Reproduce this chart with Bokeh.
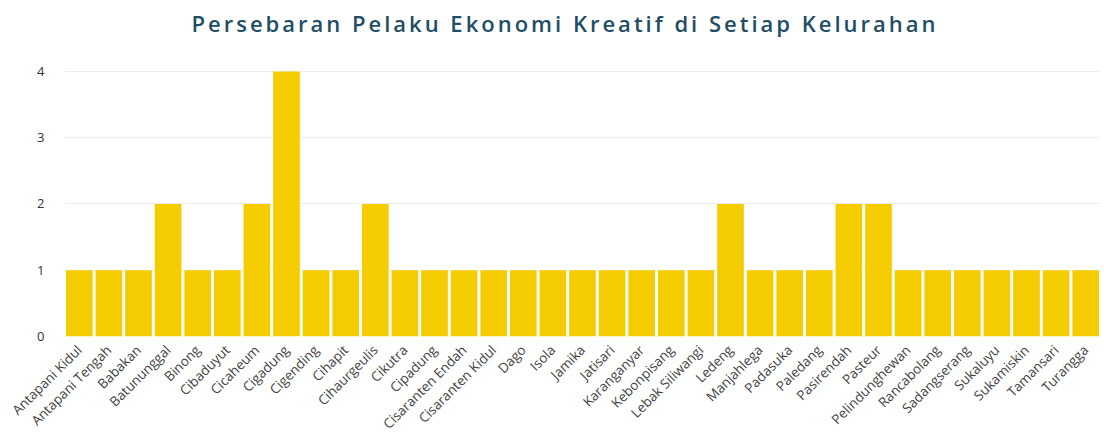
import math
from bokeh.plotting import figure
from bokeh.models import ColumnDataSource, Range1d, FixedTicker, Div
from bokeh.layouts import column
from bokeh.embed import file_html
from bokeh.resources import INLINE

# Jumlah pelaku ekonomi kreatif per kelurahan
kelurahan = [
    "Antapani Kidul", "Antapani Tengah", "Babakan", "Batununggal", "Binong",
    "Cibaduyut", "Cicaheum", "Cigadung", "Cigending", "Cihapit",
    "Cihaurgeulis", "Cikutra", "Cipadung", "Cisaranten Endah", "Cisaranten Kidul",
    "Dago", "Isola", "Jamika", "Jatisari", "Karanganyar",
    "Kebonpisang", "Lebak Siliwangi", "Ledeng", "Manjahlega", "Padasuka",
    "Paledang", "Pasirendah", "Pasteur", "Pelindunghewan", "Rancabolang",
    "Sadangserang", "Sukaluyu", "Sukamiskin", "Tamansari", "Turangga",
]
jumlah = [
    1, 1, 1, 2, 1,
    1, 2, 4, 1, 1,
    2, 1, 1, 1, 1,
    1, 1, 1, 1, 1,
    1, 1, 2, 1, 1,
    1, 2, 2, 1, 1,
    1, 1, 1, 1, 1,
]
y_ticks = [0, 1, 2, 3, 4]
judul = "Persebaran Pelaku Ekonomi Kreatif di Setiap Kelurahan"

source = ColumnDataSource(data=dict(kelurahan=kelurahan, jumlah=jumlah))

# Judul sebagai blok teks di atas grafik, dengan jarak antar huruf
header = Div(
    text=(
        '<div style="width:1104px; box-sizing:border-box; padding-left:26px; '
        'margin-top:9px; text-align:center; line-height:28px; '
        'font-family:\'Open Sans\'; font-size:22px; font-weight:600; '
        'letter-spacing:3px; color:#1F4E66;">' + judul + '</div>'
    ),
    width=1104,
    height=61,
    margin=(0, 0, 0, 0),
)

p = figure(
    x_range=kelurahan,
    y_range=Range1d(0, 4.15),
    width=1104,
    height=380,
    output_backend="svg",
    toolbar_location=None,
    tools="",
    min_border_left=64,
    min_border_right=4,
    min_border_top=0,
    min_border_bottom=105,
    margin=(0, 0, 0, 0),
)

p.vbar(x="kelurahan", top="jumlah", width=0.9, source=source,
       fill_color="#F4CC00", line_color=None)

p.outline_line_color = None
p.background_fill_color = "white"
p.border_fill_color = "white"

p.xgrid.grid_line_color = None
p.ygrid.grid_line_color = "#EDEDED"
p.ygrid.ticker = FixedTicker(ticks=y_ticks)

p.yaxis.ticker = FixedTicker(ticks=y_ticks)
p.yaxis.axis_line_color = None
p.yaxis.major_tick_line_color = None
p.yaxis.minor_tick_line_color = None
p.yaxis.major_label_text_font = "Open Sans"
p.yaxis.major_label_text_font_size = "13px"
p.yaxis.major_label_text_color = "#333333"
p.yaxis.major_label_standoff = 14

p.xaxis.axis_line_color = None
p.xaxis.major_tick_line_color = None
p.xaxis.minor_tick_line_color = None
p.xaxis.major_label_orientation = math.pi / 4
p.xaxis.major_label_text_font = "Open Sans"
p.xaxis.major_label_text_font_size = "13.5px"
p.xaxis.major_label_text_color = "#444444"
p.xaxis.major_label_standoff = 5

layout = column(header, p, spacing=0)

open("out.html", "w").write(file_html(layout, INLINE))
